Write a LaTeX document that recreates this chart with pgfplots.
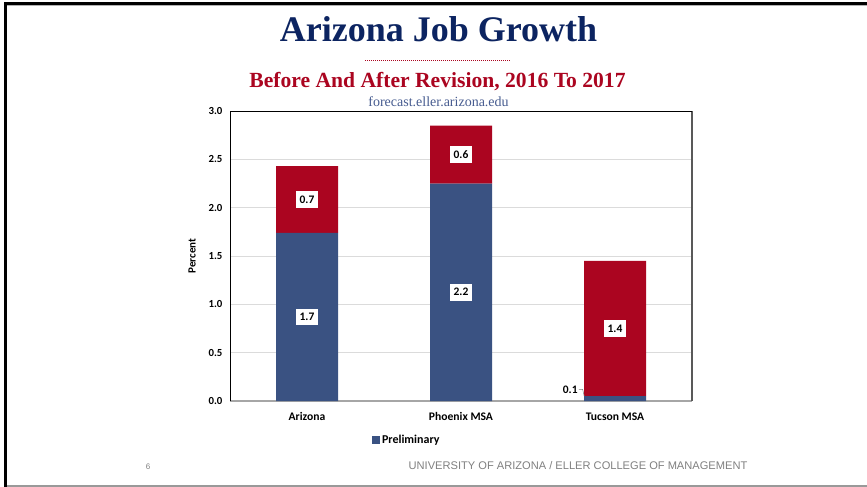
\documentclass[border=0pt]{standalone}
\usepackage{pgfplots}
\pgfplotsset{compat=1.18}
\usepackage{fontspec}
\setmainfont{Liberation Serif}
\newfontfamily\calfont{Carlito}
\newfontfamily\arialfont{Liberation Sans}
\definecolor{azblue}{HTML}{3A5282}
\definecolor{azred}{HTML}{AB0520}
\definecolor{navy}{HTML}{0C2461}
\definecolor{urlblue}{HTML}{475C90}
\tikzset{lab/.style={fill=white, inner xsep=3.5pt, inner ysep=4.5pt, font=\calfont\bfseries\fontsize{11.5}{13}\selectfont}}
\begin{document}
\begin{tikzpicture}
\path[use as bounding box, fill=white] (0pt,0pt) rectangle (867pt,-487pt);
% slide frame
\draw[line width=3pt, black] (5.5pt,-487pt) -- (5.5pt,-4pt) -- (867pt,-4pt);
\draw[line width=1pt, gray!60] (7pt,-6pt) -- (867pt,-6pt);
\draw[line width=2pt, gray!80] (7pt,-485.5pt) -- (867pt,-485.5pt);
% titles
\node[anchor=base, text=navy, font=\fontsize{36}{40}\selectfont\bfseries] at (438.5pt,-42pt) {Arizona Job Growth};
\draw[azred, line width=1pt, dash pattern=on 1pt off 1pt] (365pt,-61pt) -- (510pt,-61pt);
\node[anchor=base, text=azred, font=\fontsize{21.6}{24}\selectfont\bfseries] at (437.5pt,-88pt) {Before And After Revision, 2016 To 2017};
\node[anchor=base, text=urlblue, font=\fontsize{14}{16}\selectfont] at (438.5pt,-106pt) {forecast.eller.arizona.edu};
% footer
\node[anchor=base, text=gray, font=\arialfont\fontsize{11.1}{13}\selectfont] at (578pt,-469pt) {UNIVERSITY OF ARIZONA / ELLER COLLEGE OF MANAGEMENT};
\node[anchor=base, text=gray, font=\arialfont\fontsize{8}{10}\selectfont] at (148pt,-469pt) {6};
\begin{axis}[
  at={(230pt,-401pt)}, anchor=south west,
  width=462pt, height=290pt, scale only axis,
  ybar stacked, bar width=62pt,
  xmin=-0.5, xmax=2.5, ymin=0, ymax=3,
  xtick={0,1,2}, xticklabels={Arizona, Phoenix MSA, Tucson MSA},
  ytick={0,0.5,1,1.5,2,2.5,3},
  yticklabel style={/pgf/number format/fixed, /pgf/number format/precision=1, /pgf/number format/fixed zerofill, xshift=-4pt},
  /pgf/number format/assume math mode=true,
  tick label style={font=\calfont\bfseries\fontsize{10.8}{12}\selectfont},
  xticklabel style={yshift=-8pt, font=\calfont\bfseries\fontsize{11.6}{13}\selectfont},
  major tick length=0pt,
  ymajorgrids, grid style={color=gray!28, line width=0.8pt},
  axis line style={draw=none},
  ylabel={Percent}, ylabel style={font=\calfont\bfseries\fontsize{11}{13}\selectfont, yshift=6pt},
  legend style={at={(0.307,-0.134)}, anchor=west, draw=none, fill=none, font=\calfont\bfseries\fontsize{12}{14}\selectfont, inner sep=0pt},
  legend image code/.code={\fill[azblue] (0pt,-4pt) rectangle (8pt,4pt);},
  clip=false,
]
\addplot[fill=azblue, draw=none] coordinates {(0,1.74) (1,2.25) (2,0.05)};
\addlegendentry{Preliminary}
\addplot[fill=azred, draw=none, forget plot] coordinates {(0,0.69) (1,0.60) (2,1.40)};
% frame
\draw[black, line width=1pt] (rel axis cs:0,0) -- (rel axis cs:0,1) -- (rel axis cs:1,1);
\draw[gray!70!black, line width=1.2pt] (rel axis cs:1,1) -- (rel axis cs:1,0);
\draw[gray!70, line width=1.2pt] (rel axis cs:0,0) -- (rel axis cs:1,0);
% label anchors
\coordinate (a1) at (axis cs:0,0.87);
\coordinate (a2) at (axis cs:0,2.085);
\coordinate (p1) at (axis cs:1,1.125);
\coordinate (p2) at (axis cs:1,2.55);
\coordinate (t2) at (axis cs:2,0.75);
\coordinate (tA) at (axis cs:1.765,0.12);
\coordinate (tB) at (axis cs:1.79,0.12);
\coordinate (tC) at (axis cs:1.8,0.05);
\end{axis}
\node[lab] at (a1) {1.7};
\node[lab] at (a2) {0.7};
\node[lab] at (p1) {2.2};
\node[lab] at (p2) {0.6};
\node[lab] at (t2) {1.4};
\draw[gray, line width=0.5pt] (tA) -- (tB) -- (tC);
\node[anchor=east, inner sep=1pt, font=\calfont\bfseries\fontsize{11.5}{13}\selectfont] at (tA) {0.1};
\end{tikzpicture}
\end{document}
